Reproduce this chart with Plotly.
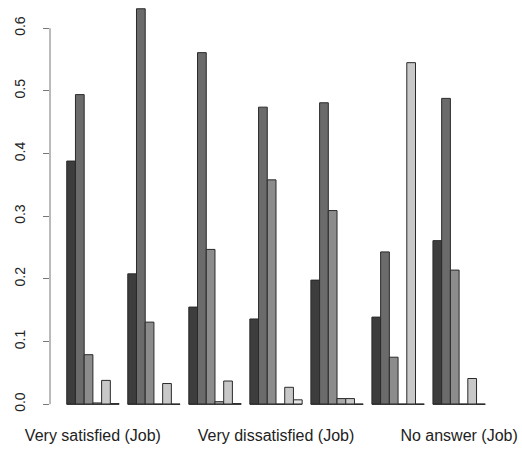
import plotly.graph_objects as go

categories = [
    "Very satisfied (Job)",
    "Moderately satisfied (Job)",
    "A little dissatisfied (Job)",
    "Very dissatisfied (Job)",
    "Don't know (Job)",
    "Inapplicable (Job)",
    "No answer (Job)",
]
shown_labels = [0, 3, 6]

series_names = ["S1", "S2", "S3", "S4", "S5", "S6"]
s1 = [0.388, 0.208, 0.155, 0.136, 0.198, 0.139, 0.261]
s2 = [0.494, 0.631, 0.561, 0.474, 0.481, 0.243, 0.488]
s3 = [0.079, 0.131, 0.247, 0.358, 0.309, 0.075, 0.214]
s4 = [0.002, 0.000, 0.004, 0.000, 0.009, 0.000, 0.000]
s5 = [0.038, 0.033, 0.037, 0.027, 0.009, 0.545, 0.041]
s6 = [0.001, 0.000, 0.001, 0.007, 0.000, 0.000, 0.000]
series = [s1, s2, s3, s4, s5, s6]
colors = ["#3d3d3d", "#6b6b6b", "#8c8c8c", "#a9a9a9", "#c8c8c8", "#e4e4e4"]

y_ticks = [0.0, 0.1, 0.2, 0.3, 0.4, 0.5, 0.6]

xpos = list(range(len(categories)))
nser = len(series)
fig = go.Figure()
for name, vals, col in zip(series_names, series, colors):
    fig.add_trace(go.Bar(x=xpos, y=vals, name=name, marker=dict(color=col, line=dict(color="#2a2a2a", width=1))))

# baseline under each group (zero-height bars drawn as border lines in the original)
half = nser / (nser + 1) / 2
bx, by = [], []
for i in xpos:
    bx += [i - half, i + half, None]
    by += [0, 0, None]
fig.add_trace(go.Scatter(x=bx, y=by, mode="lines", line=dict(color="#2a2a2a", width=1), hoverinfo="skip", showlegend=False))

unit = 1 / (nser + 1)
ext = 0.04 * (len(categories) * (nser + 1) - 1) * unit
fig.update_layout(
    width=522, height=449,
    margin=dict(l=50, r=16, t=5, b=28),
    barmode="group", bargap=unit, bargroupgap=0,
    plot_bgcolor="white", paper_bgcolor="white",
    showlegend=False,
    font=dict(family="Liberation Sans, Arial, sans-serif", color="#222"),
    xaxis=dict(
        range=[-half - ext, len(categories) - 1 + half + ext],
        tickvals=[xpos[i] for i in shown_labels],
        ticktext=[categories[i] for i in shown_labels],
        showgrid=False, zeroline=False, showline=False,
        ticks="", tickfont=dict(size=16), ticklabelstandoff=4,
    ),
    yaxis=dict(
        range=[-0.0252, 0.637],
        tickvals=y_ticks,
        ticktext=[f"{v:.1f}" for v in y_ticks],
        tickangle=-90,
        showgrid=False, zeroline=False, showline=False,
        ticks="outside", ticklen=6, tickcolor="#777", tickwidth=1,
        tickfont=dict(size=14), ticklabelstandoff=12,
    ),
)
fig.add_shape(type="line", xref="paper", yref="y", x0=0, x1=0, y0=y_ticks[0], y1=y_ticks[-1],
              line=dict(color="#777", width=1))
fig.write_html("out.html", config={"displayModeBar": False},
               post_script="document.body.style.margin='0';document.body.style.overflow='hidden';")
